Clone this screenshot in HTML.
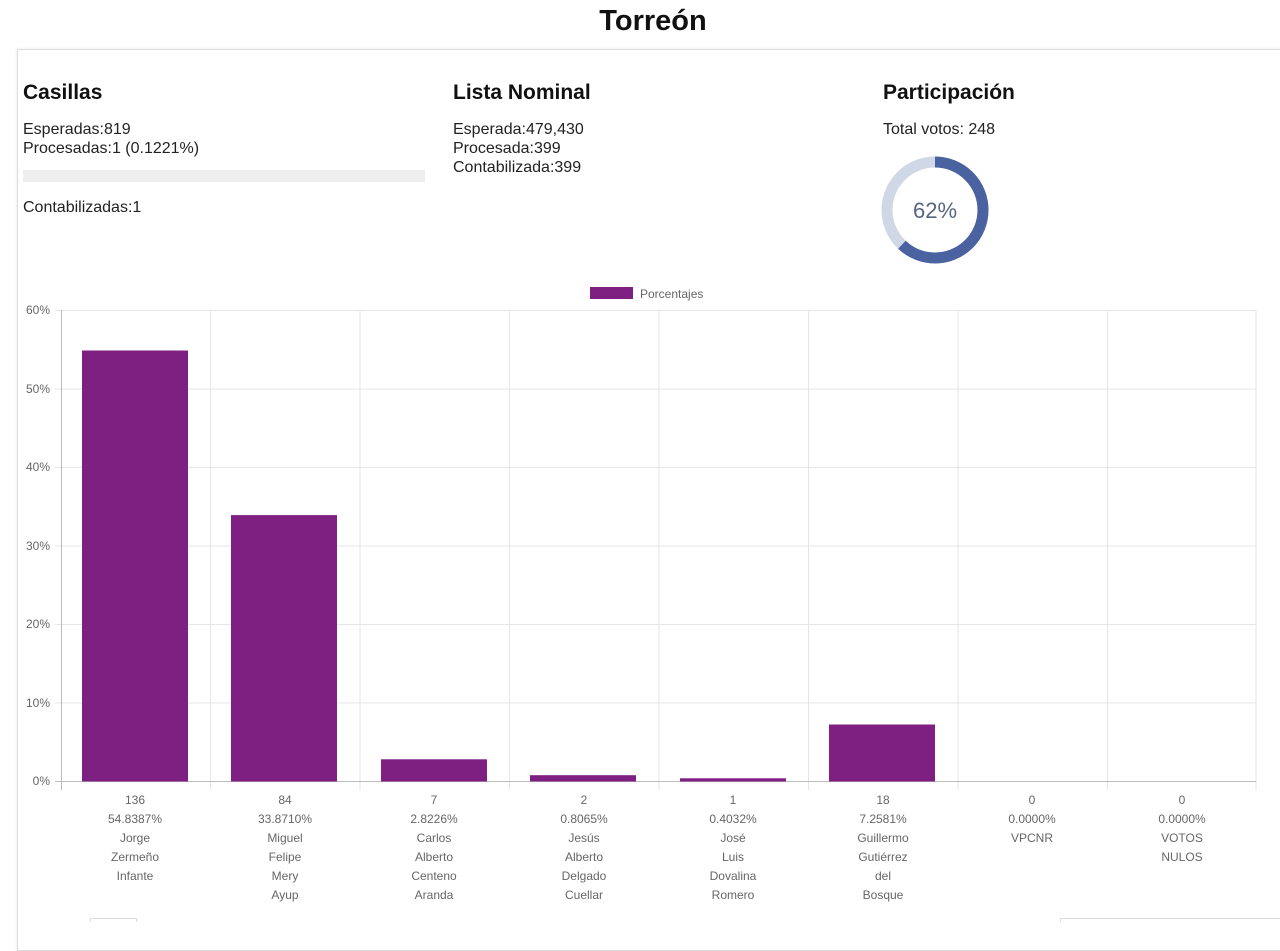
<!DOCTYPE html>
<html><head><meta charset="utf-8"><style>
body{margin:0;width:1280px;height:922px;overflow:hidden;background:#fff;font-family:"Segoe UI","Liberation Sans",sans-serif;color:#111}
.card{position:absolute;left:17px;top:49px;width:1300px;height:900px;border:1px solid #ddd;box-shadow:0 0 3px rgba(0,0,0,.1)}
h1{position:absolute;top:5px;left:0;width:1306px;text-align:center;margin:0;font-size:29px;font-weight:600}
.h{position:absolute;font-size:21px;font-weight:600}
.t{position:absolute;font-size:16px;line-height:19px;color:#222}
</style></head><body>
<h1>Torreón</h1>
<div class="card"></div>
<div class="h" style="left:23px;top:81px">Casillas</div>
<div class="t" style="left:23px;top:120px">Esperadas:819<br>Procesadas:1 (0.1221%)</div>
<div style="position:absolute;left:23px;top:170px;width:402px;height:12px;background:#eee"></div>
<div class="t" style="left:23px;top:198px">Contabilizadas:1</div>
<div class="h" style="left:453px;top:81px">Lista Nominal</div>
<div class="t" style="left:453px;top:120px">Esperada:479,430<br>Procesada:399<br>Contabilizada:399</div>
<div class="h" style="left:883px;top:81px">Participación</div>
<div class="t" style="left:883px;top:120px">Total votos: 248</div>
<svg style="position:absolute;left:0;top:0" width="1280" height="922">
<circle cx="935" cy="210" r="48" fill="none" stroke="#d0d7e6" stroke-width="11"/>
<circle cx="935" cy="210" r="48" fill="none" stroke="#4a63a0" stroke-width="11" stroke-dasharray="187 400" transform="rotate(-90 935 210)"/>
<text x="935" y="218" text-anchor="middle" font-family="Liberation Sans,sans-serif" font-size="22" fill="#5a6480">62%</text>
<rect x="590" y="287" width="43" height="12" fill="#7e1f82"/>
<text x="640" y="298" font-family="Liberation Sans,sans-serif" font-size="12" fill="#666">Porcentajes</text>
<g stroke="#e6e6e6" stroke-width="1">
<line x1="55" y1="310.5" x2="1256" y2="310.5"/><line x1="55" y1="389" x2="1256" y2="389"/><line x1="55" y1="467.5" x2="1256" y2="467.5"/><line x1="55" y1="546" x2="1256" y2="546"/><line x1="55" y1="624.5" x2="1256" y2="624.5"/><line x1="55" y1="703" x2="1256" y2="703"/>
<line x1="210.5" y1="310" x2="210.5" y2="790"/><line x1="360" y1="310" x2="360" y2="790"/><line x1="509.5" y1="310" x2="509.5" y2="790"/><line x1="659" y1="310" x2="659" y2="790"/><line x1="808.5" y1="310" x2="808.5" y2="790"/><line x1="958" y1="310" x2="958" y2="790"/><line x1="1107.5" y1="310" x2="1107.5" y2="790"/><line x1="1256" y1="310" x2="1256" y2="790"/>
</g>
<line x1="61.5" y1="310" x2="61.5" y2="790" stroke="#bbb"/>
<line x1="55" y1="781.5" x2="1256" y2="781.5" stroke="#bbb"/>
<g font-family="Liberation Sans,sans-serif" font-size="12" fill="#666" text-anchor="end">
<text x="50" y="314">60%</text><text x="50" y="393">50%</text><text x="50" y="471">40%</text><text x="50" y="550">30%</text><text x="50" y="628">20%</text><text x="50" y="707">10%</text><text x="50" y="785">0%</text></g>
<g fill="#7e1f82">
<rect x="82" y="350.5" width="106" height="431"/>
<rect x="231" y="515.1" width="106" height="266.4"/>
<rect x="381" y="759.3" width="106" height="22.2"/>
<rect x="530" y="775.2" width="106" height="6.3"/>
<rect x="680" y="778.3" width="106" height="3.2"/>
<rect x="829" y="724.5" width="106" height="57"/>
</g>
<g font-family="Liberation Sans,sans-serif" font-size="12" fill="#666" text-anchor="middle">
<text x="135" y="804">136</text><text x="135" y="823">54.8387%</text><text x="135" y="842">Jorge</text><text x="135" y="861">Zermeño</text><text x="135" y="880">Infante</text>
<text x="285" y="804">84</text><text x="285" y="823">33.8710%</text><text x="285" y="842">Miguel</text><text x="285" y="861">Felipe</text><text x="285" y="880">Mery</text><text x="285" y="899">Ayup</text>
<text x="434" y="804">7</text><text x="434" y="823">2.8226%</text><text x="434" y="842">Carlos</text><text x="434" y="861">Alberto</text><text x="434" y="880">Centeno</text><text x="434" y="899">Aranda</text>
<text x="584" y="804">2</text><text x="584" y="823">0.8065%</text><text x="584" y="842">Jesús</text><text x="584" y="861">Alberto</text><text x="584" y="880">Delgado</text><text x="584" y="899">Cuellar</text>
<text x="733" y="804">1</text><text x="733" y="823">0.4032%</text><text x="733" y="842">José</text><text x="733" y="861">Luis</text><text x="733" y="880">Dovalina</text><text x="733" y="899">Romero</text>
<text x="883" y="804">18</text><text x="883" y="823">7.2581%</text><text x="883" y="842">Guillermo</text><text x="883" y="861">Gutiérrez</text><text x="883" y="880">del</text><text x="883" y="899">Bosque</text>
<text x="1032" y="804">0</text><text x="1032" y="823">0.0000%</text><text x="1032" y="842">VPCNR</text>
<text x="1182" y="804">0</text><text x="1182" y="823">0.0000%</text><text x="1182" y="842">VOTOS</text><text x="1182" y="861">NULOS</text>
</g>
<rect x="90.5" y="918.5" width="46" height="10" fill="none" stroke="#ddd"/>
<rect x="1060.5" y="918.5" width="230" height="10" fill="none" stroke="#ddd"/>
</svg>
</body></html>
